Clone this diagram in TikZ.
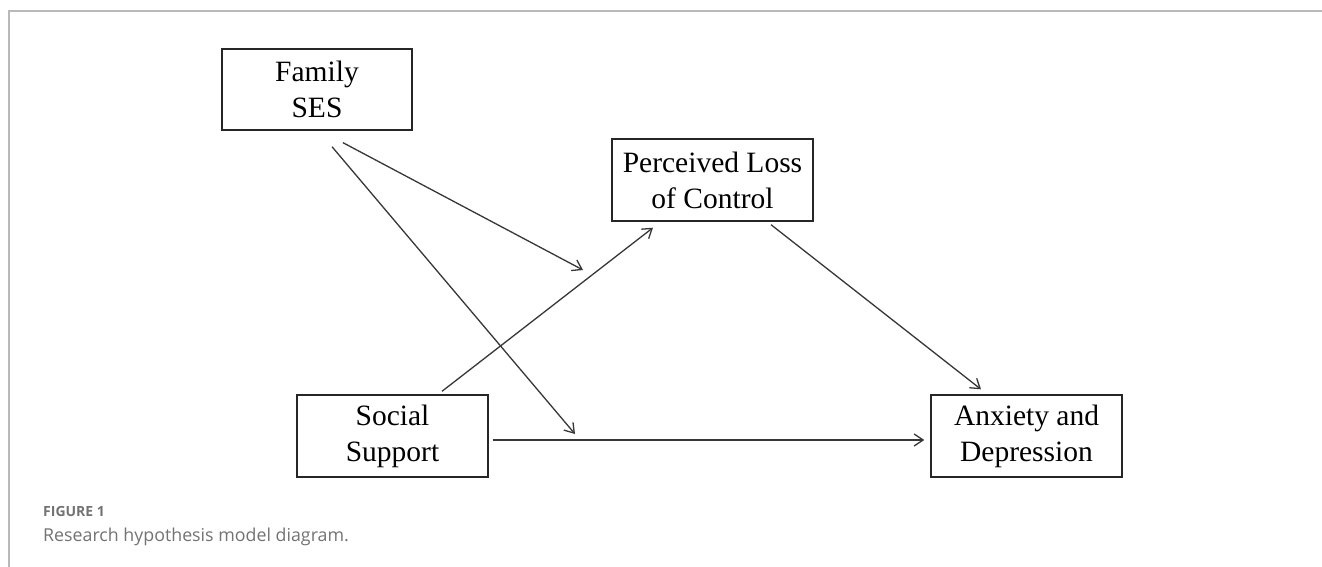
\documentclass[tikz,border=0pt]{standalone}
\usepackage{fontspec}
\setmainfont{Liberation Serif}
\newfontfamily\capfont{Open Sans}
\usetikzlibrary{arrows.meta}
\definecolor{framegray}{RGB}{185,185,185}
\definecolor{capgray}{RGB}{115,115,115}
\definecolor{linegray}{RGB}{55,55,55}
\tikzset{
  varbox/.style={draw=black!85, line width=1.4pt, minimum width=#1, minimum height=82pt,
    align=center, inner sep=0pt, font=\fontsize{29.5}{36}\selectfont},
  arr/.style={draw=linegray, line width=1.3pt, -{Straight Barb[length=9pt,width=12pt,line width=1.3pt]}},
  capsmall/.style={anchor=base west, inner sep=0pt, text=capgray, font=\capfont\bfseries\fontsize{14}{16}\selectfont},
  capbig/.style={anchor=base west, inner sep=0pt, text=capgray, font=\capfont\fontsize{17.8}{20}\selectfont},
}
\begin{document}
\begin{tikzpicture}[x=1pt,y=-1pt]
\useasboundingbox (0,0) rectangle (1322,567);
\fill[white] (0,0) rectangle (1322,567);
% frame
\draw[framegray, line width=2pt] (9,567) -- (9,11) -- (1322,11);
% boxes
\node[varbox=190pt, minimum height=81pt] (fam) at (317,89.5) {Family\\SES};
\node[varbox=201pt] (plc) at (712.5,180) {Perceived Loss\\of Control};
\node[varbox=191pt] (ss) at (392.5,436) {Social\\Support};
\node[varbox=191pt] (ad) at (1026.5,436) {Anxiety and\\Depression};
% moderation targets
\coordinate (m1) at (583,270);
\coordinate (m2) at (575,434);
% connectors
\draw[arr] ([xshift=26pt,yshift=-12pt]fam.south) -- (m1);
\draw[arr] ([xshift=15pt,yshift=-16pt]fam.south) -- (m2);
\draw[arr] ([xshift=49.5pt,yshift=3pt]ss.north) -- ([xshift=-59.5pt,yshift=-6pt]plc.south);
\draw[arr] ([xshift=58.5pt,yshift=-3pt]plc.south) -- ([xshift=-45.5pt,yshift=5pt]ad.north);
\draw[arr] ([xshift=4pt,yshift=-4pt]ss.east) -- ([xshift=-6pt,yshift=-4pt]ad.west);
% caption
\node[capsmall] (figlbl) at (43,516) {FIGURE 1};
\node[capbig] (figcap) at (43,541) {Research hypothesis model diagram.};
\end{tikzpicture}
\end{document}
